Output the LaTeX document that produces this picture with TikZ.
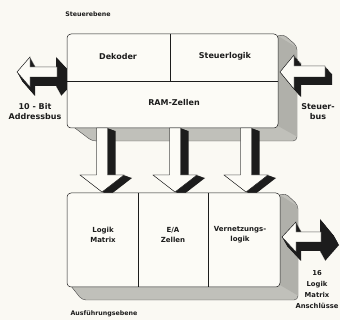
\documentclass[tikz,border=0pt]{standalone}
\usepackage{fontspec}
\setmainfont{DejaVu Sans}
\definecolor{paper}{RGB}{250,249,243}
\definecolor{face}{RGB}{252,251,246}
\definecolor{sidegray}{RGB}{176,176,170}
\definecolor{botgray}{RGB}{192,192,186}
\definecolor{ink}{RGB}{28,28,28}
\tikzset{
  frontface/.style={fill=face, draw=ink, line width=0.5pt, rounded corners=4},
  extr/.style={draw=ink!80, line width=0.4pt, rounded corners=4},
  blockwhite/.style={fill=face, draw=ink, line width=0.45pt, line join=miter},
  blockblack/.style={fill=ink},
  divider/.style={draw=ink, line width=0.45pt},
  lbl/.style={font=\fontsize{8}{10}\selectfont\bfseries, align=center, inner sep=0pt, text=ink},
  smalllbl/.style={font=\fontsize{7}{10}\selectfont\bfseries, align=center, inner sep=0pt, text=ink},
  headlbl/.style={font=\fontsize{6.3}{8}\selectfont\bfseries, align=center, inner sep=0pt, text=ink},
}
\newcommand\downarr[1]{({#1-5.5},128) -- ({#1+5.5},128) -- ({#1+5.5},175) -- ({#1+22},175) -- (#1,192) -- ({#1-22},175) -- ({#1-5.5},175) -- cycle}
\newcommand\extrude[3]{\foreach \t in {0,0.1,...,1.01} {\fill[blockblack, shift={({\t*#1},{\t*#2})}] #3;}}
\begin{document}
\begin{tikzpicture}[x=1pt, y=-1pt]
\useasboundingbox (0,0) rectangle (340,320);
\fill[paper] (0,0) rectangle (340,320);

% left double arrow (address bus)
\extrude{5}{9}{(17,72) -- (30,57) -- (30,67) -- (56,67) -- (56,57) -- (70,72) -- (56,87) -- (56,77) -- (30,77) -- (30,87) -- cycle}
\path[blockwhite] (17,72) -- (30,57) -- (30,67) -- (57,67) -- (57,77) -- (30,77) -- (30,87) -- cycle;

% top box
\path[fill=botgray, extr] (67,122) -- (92,141) -- (297,141) -- (297,46) -- (283,34) -- cycle;
\fill[sidegray] (278,36) -- (296,47) -- (296,136) -- (278,126) -- cycle;
\path[frontface] (67,34) rectangle (278,128);
\draw[divider] (67,81) -- (278,81);
\draw[divider] (170,34) -- (170,81);

% control bus arrow
\extrude{7}{8}{(280,72) -- (294,55) -- (294,66) -- (325,66) -- (325,77) -- (294,77) -- (294,89) -- cycle}
\path[blockwhite] (280,72) -- (294,55) -- (294,66) -- (325,66) -- (325,77) -- (294,77) -- (294,89) -- cycle;

% down arrows
\foreach \cx in {102,175,246} {
  \extrude{8}{3}{\downarr{\cx}}
  \path[blockwhite] \downarr{\cx};
}

% lower box
\path[fill=botgray, extr] (67,281) -- (82,300) -- (298,300) -- (298,205) -- (285,193) -- cycle;
\fill[sidegray] (280,195) -- (297,206) -- (297,295) -- (280,285) -- cycle;
\path[frontface] (67,193) rectangle (280,287);
\draw[divider] (138,193) -- (138,287);
\draw[divider] (208,193) -- (208,287);

% lower right double arrow
\extrude{5}{9}{(282,237) -- (296,222) -- (296,232) -- (320,232) -- (320,219) -- (334,236) -- (320,252) -- (320,242) -- (296,242) -- (296,252) -- cycle}
\path[blockwhite] (282,237) -- (296,222) -- (296,232) -- (321,232) -- (321,242) -- (296,242) -- (296,252) -- cycle;

% labels
\node[headlbl] (steuerebene) at (88,14) {Steuerebene};
\node[lbl] (dekoder) at (118,57) {Dekoder};
\node[lbl] (steuerlogik) at (225,56) {Steuerlogik};
\node[lbl] (ram) at (174,103) {RAM-Zellen};
\node[lbl] (addr) at (35,112) {10 - Bit\\Addressbus};
\node[lbl] (sbus) at (318,112) {Steuer-\\bus};
\node[smalllbl] (logik) at (103,235) {Logik\\Matrix};
\node[smalllbl] (ea) at (173,235) {E/A\\Zellen};
\node[smalllbl] (vern) at (240,235) {Vernetzungs-\\logik};
\node[font=\fontsize{6.8}{11}\selectfont\bfseries, align=center, inner sep=0pt, text=ink] (anschl) at (317,290) {16\\Logik\\Matrix\\Anschlüsse};
\node[headlbl] (ausf) at (104,314) {Ausführungsebene};
\end{tikzpicture}
\end{document}
